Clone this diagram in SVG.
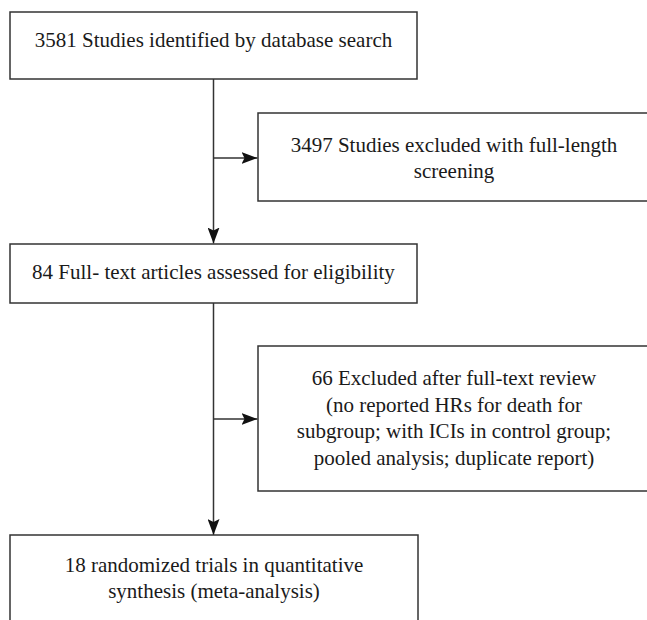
<svg xmlns="http://www.w3.org/2000/svg" width="647" height="620" viewBox="0 0 647 620">
<defs>
<style>
.box{fill:#fff;stroke:#333;stroke-width:1.5}
.t{font-family:"Liberation Serif","Times New Roman",serif;font-size:21px;fill:#1a1a1a;text-anchor:middle}
.ln{stroke:#333;stroke-width:1.5;fill:none}
</style>
<marker id="ah" markerWidth="16" markerHeight="12" refX="16" refY="6" orient="auto" markerUnits="userSpaceOnUse">
<path d="M0,0 L16,6 L0,12 L3,6 Z" fill="#111"/>
</marker>
</defs>
<rect width="647" height="620" fill="#fff"/>
<g id="connectors">
<line class="ln" x1="213.5" y1="79" x2="213.5" y2="243.5" marker-end="url(#ah)"/>
<line class="ln" x1="213.5" y1="158" x2="257.5" y2="158" marker-end="url(#ah)"/>
<line class="ln" x1="213.5" y1="303" x2="213.5" y2="535" marker-end="url(#ah)"/>
<line class="ln" x1="213.5" y1="419" x2="257.5" y2="419" marker-end="url(#ah)"/>
</g>
<g id="n1">
<rect class="box" x="10" y="12" width="407" height="67"/>
<text class="t" x="213.5" y="47">3581 Studies identified by database search</text>
</g>
<g id="n2">
<rect class="box" x="258" y="113" width="400" height="88"/>
<text class="t" x="454" y="152">3497 Studies excluded with full-length</text>
<text class="t" x="454" y="178">screening</text>
</g>
<g id="n3">
<rect class="box" x="10" y="244" width="407" height="59"/>
<text class="t" x="213.5" y="279">84 Full- text articles assessed for eligibility</text>
</g>
<g id="n4">
<rect class="box" x="258" y="346" width="400" height="145"/>
<text class="t" x="454" y="385">66 Excluded after full-text review</text>
<text class="t" x="454" y="411.5">(no reported HRs for death for</text>
<text class="t" x="454" y="438">subgroup; with ICIs in control group;</text>
<text class="t" x="454" y="464.5">pooled analysis; duplicate report)</text>
</g>
<g id="n5">
<rect class="box" x="10" y="535" width="408" height="100"/>
<text class="t" x="214" y="572">18 randomized trials in quantitative</text>
<text class="t" x="214" y="598">synthesis (meta-analysis)</text>
</g>
</svg>
